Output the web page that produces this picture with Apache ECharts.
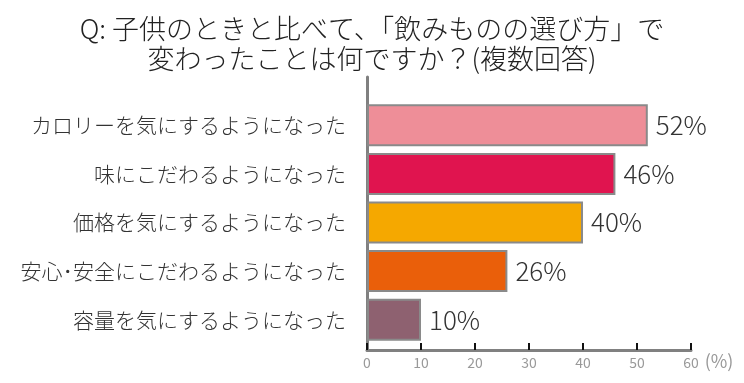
<!DOCTYPE html>
<html><head><meta charset="utf-8">
<script src="https://cdn.jsdelivr.net/npm/echarts@6/dist/echarts.min.js"></script>
<style>html,body{margin:0;padding:0;background:#fff}#c{width:744px;height:383px}</style>
</head><body><div id="c"></div>
<script>
const titleLines = ['Q: 子供のときと比べて、「飲みものの選び方」で', '変わったことは何ですか？(複数回答)'];
const categories = ['カロリーを気にするようになった','味にこだわるようになった','価格を気にするようになった','安心･安全にこだわるようになった','容量を気にするようになった'];
const values = [52, 46, 40, 26, 10];
const colors = ['#EE8E98','#E0144F','#F5A800','#EA5F0A','#8E6170'];
const xTicks = {min: 0, max: 60, interval: 10};
const unitLabel = '(%)';

const font = '"Noto Sans CJK JP", "Noto Sans", sans-serif';
const chart = echarts.init(document.getElementById('c'));
chart.setOption({
  animation: false,
  backgroundColor: '#fff',
  title: {
    text: titleLines.join('\n'), left: 'center', top: 9,
    textStyle: {fontFamily: font, fontSize: 27, fontWeight: 300, color: '#222', lineHeight: 30}
  },
  grid: [
    {left: 367, right: 53, top: 101, bottom: 39},
    {left: 367, right: 53, top: 77, bottom: 33}
  ],
  xAxis: [
    {gridIndex: 0, type: 'value', min: xTicks.min, max: xTicks.max, interval: xTicks.interval, offset: 6,
     axisLine: {show: true, lineStyle: {color: '#808080', width: 3}},
     axisTick: {show: true, inside: true, length: 7, lineStyle: {color: '#111', width: 2}},
     axisLabel: {color: '#999', fontSize: 14, fontFamily: font, margin: 6},
     splitLine: {show: false},
     name: unitLabel, nameLocation: 'end', nameGap: 12,
     nameTextStyle: {color: '#999', fontSize: 18, fontFamily: font, verticalAlign: 'top', padding: [2,0,0,0]}},
    {gridIndex: 1, type: 'value', show: false, min: 0, max: 1}
  ],
  yAxis: [
    {gridIndex: 0, type: 'category', data: categories, inverse: true,
     axisLine: {show: false}, axisTick: {show: false},
     axisLabel: {color: '#333', fontSize: 21, fontWeight: 300, fontFamily: font, margin: 21}},
    {gridIndex: 1, type: 'category', data: [''],
     axisLine: {show: true, lineStyle: {color: '#808080', width: 3}},
     axisTick: {show: false}, axisLabel: {show: false}}
  ],
  series: [{
    type: 'bar', xAxisIndex: 0, yAxisIndex: 0, barWidth: 42,
    data: values.map((v, i) => ({value: v, itemStyle: {color: colors[i]}})),
    itemStyle: {borderColor: '#8a8a8a', borderWidth: 2},
    label: {show: true, position: 'right', distance: 8, formatter: '{c}%',
            fontSize: 26, fontWeight: 300, color: '#333', fontFamily: font}
  }]
});
</script></body></html>
